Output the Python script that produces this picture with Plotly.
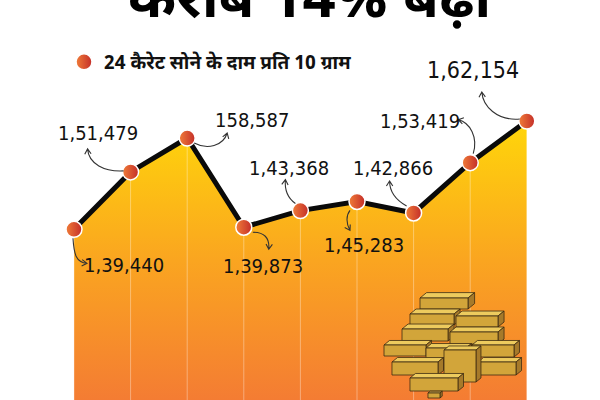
import math
import plotly.graph_objects as go

# ---------------- data ----------------
points = list(range(9))
values = [139440, 151479, 158587, 139873, 143368, 145283, 142866, 153419, 162154]
labels = ["1,39,440", "1,51,479", "158,587", "1,39,873", "1,43,368",
          "1,45,283", "1,42,866", "1,53,419", "1,62,154"]
series_name = "24 कैरेट सोने के दाम प्रति 10 ग्राम"
title_text = "करीब 14% बढ़ा"

# ---------------- layout constants ----------------
W, H = 600, 400
X_RANGE = [-1.307, 9.293]
Y_RANGE = [103639, 187531]
NUM_FONT = "Liberation Sans Narrow, DejaVu Sans Condensed, sans-serif"
DEV_FONT = "Noto Sans Devanagari, Noto Sans, sans-serif"

# label offsets from each point (pixels, x right, y down)
label_offsets = [(50, 36), (-33, -39), (65, -18), (19, 39), (-11, -43),
                 (7, 44), (-21, -45), (-50, -42), (-54, -51)]
label_sizes = [20, 20, 20, 20, 20, 20, 20, 20, 23]

# curved arrow: start, ctrl1, ctrl2, tip (pixel offsets, y down)
arrow_specs = [
    ((-1, 9), (0, 25), (2, 33), (13, 34)),
    ((-7, -1), (-26, 0), (-42, -8), (-43, -23)),
    ((7, 5), (20, 12), (36, 8), (40, -5)),
    ((9, 5), (20, 5), (26, 10), (25, 22)),
    ((-5, -7), (-12, -12), (-16, -20), (-15, -31)),
    ((-7, 9), (-11, 14), (-11, 22), (-7, 29)),
    ((-7, -7), (-16, -12), (-24, -20), (-24, -32)),
    ((3, -9), (8, -25), (0, -40), (-12, -43)),
    ((-7, -2), (-30, 0), (-44, -15), (-45, -29)),
]


def arrow_path(s, c1, c2, t, head=6, ang=32):
    dx, dy = t[0] - c2[0], t[1] - c2[1]
    n = math.hypot(dx, dy) or 1
    ux, uy = -dx / n, -dy / n
    wings = []
    for a in (ang, -ang):
        r = math.radians(a)
        wx = ux * math.cos(r) - uy * math.sin(r)
        wy = ux * math.sin(r) + uy * math.cos(r)
        wings.append((t[0] + wx * head, t[1] + wy * head))
    f = lambda p: f"{p[0]:.2f},{-p[1]:.2f}"
    return (f"M {f(s)} C {f(c1)} {f(c2)} {f(t)} "
            f"M {f(wings[0])} L {f(t)} L {f(wings[1])}")


fig = go.Figure()

# area fill with vertical gradient
fig.add_trace(go.Scatter(
    x=points, y=values, mode="lines", fill="tozeroy",
    line=dict(width=0, color="rgba(0,0,0,0)"),
    fillgradient=dict(type="vertical", start=Y_RANGE[0], stop=max(values),
                      colorscale=[[0, "#F47C33"], [0.5, "#FAA520"], [1, "#FFD60A"]]),
    hoverinfo="skip", showlegend=False))

# faint white vertical guides
gx, gy = [], []
for p, v in zip(points, values):
    gx += [p, p, None]
    gy += [Y_RANGE[0], v, None]
fig.add_trace(go.Scatter(x=gx, y=gy, mode="lines",
                         line=dict(color="rgba(255,255,255,0.35)", width=1),
                         hoverinfo="skip", showlegend=False))

# black line
fig.add_trace(go.Scatter(x=points, y=values, mode="lines",
                         line=dict(color="#0a0a0a", width=5),
                         hoverinfo="skip", showlegend=False))

# markers (legend entry)
fig.add_trace(go.Scatter(
    x=points, y=values, mode="markers", name=series_name,
    marker=dict(size=16, color="#F07C38",
                gradient=dict(type="horizontal", color="#C42E29"),
                line=dict(color="white", width=1.5)),
    showlegend=True))

annotations = []
shapes = []
for p, v, lab, (ox, oy), fs, spec in zip(points, values, labels, label_offsets,
                                          label_sizes, arrow_specs):
    annotations.append(dict(x=p, y=v, xref="x", yref="y", text=lab, showarrow=False,
                            xshift=ox, yshift=-oy, xanchor="center", yanchor="middle",
                            font=dict(family=NUM_FONT, size=fs, color="#111111")))
    shapes.append(dict(type="path", xref="x", yref="y", xsizemode="pixel",
                       ysizemode="pixel", xanchor=p, yanchor=v,
                       path=arrow_path(*spec),
                       line=dict(color="#333333", width=1.1), layer="above"))

# title (cut at top like the reference)
annotations.append(dict(x=0.5, y=1 - 43 / H, xref="paper", yref="paper",
                        text=f"<b>{title_text}</b>", showarrow=False,
                        xanchor="center", yanchor="bottom", xshift=10,
                        font=dict(family=DEV_FONT, size=58, color="#000000")))


# ---------- decorative gold bar pile (paper coords from pixels) ----------
def P(x, y):
    return f"{x / W:.4f},{1 - y / H:.4f}"


def bar(x, y, w, h, d):
    ddx, ddy = d * 0.55, -d * 0.45
    front = f"M {P(x, y)} L {P(x + w, y)} L {P(x + w, y + h)} L {P(x, y + h)} Z"
    top = (f"M {P(x, y)} L {P(x + ddx, y + ddy)} L {P(x + w + ddx, y + ddy)} "
           f"L {P(x + w, y)} Z")
    side = (f"M {P(x + w, y)} L {P(x + w + ddx, y + ddy)} "
            f"L {P(x + w + ddx, y + h + ddy)} L {P(x + w, y + h)} Z")
    out = []
    for path, col in ((top, "#EDCB5E"), (side, "#A67A2A"), (front, "#D2A53A")):
        out.append(dict(type="path", xref="paper", yref="paper", path=path,
                        fillcolor=col, line=dict(color="#3E2C12", width=0.8),
                        layer="above"))
    return out


pile = [
    (420, 298, 48, 11, 12),
    (410, 314, 44, 11, 11), (456, 316, 42, 11, 11),
    (402, 329, 46, 12, 11), (450, 332, 48, 12, 11),
    (384, 345, 42, 11, 10), (426, 348, 40, 12, 10), (472, 345, 42, 12, 10),
    (392, 362, 46, 13, 10), (478, 362, 38, 13, 10),
    (444, 350, 32, 32, 9),
    (410, 378, 48, 13, 10),
    (428, 393, 12, 5, 4),
]
for b in pile:
    shapes += bar(*b)

fig.update_layout(
    width=W, height=H, margin=dict(l=0, r=0, t=0, b=0),
    paper_bgcolor="white", plot_bgcolor="white",
    xaxis=dict(range=X_RANGE, visible=False, fixedrange=True),
    yaxis=dict(range=Y_RANGE, visible=False, fixedrange=True),
    legend=dict(x=64 / W, y=1 - 62 / H, xanchor="left", yanchor="middle",
                bgcolor="rgba(0,0,0,0)",
                font=dict(family=DEV_FONT, size=19, color="#111111", weight="bold")),
    annotations=annotations, shapes=shapes, hovermode=False,
)

fig.write_html("out.html", config={"displayModeBar": False},
               post_script="document.body.style.margin='0px';")
